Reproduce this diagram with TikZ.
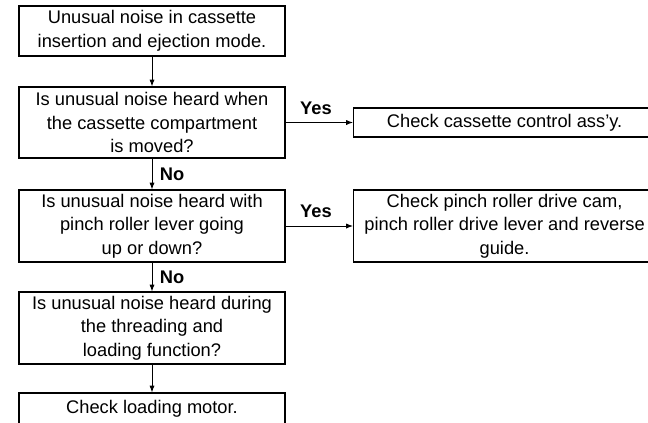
\documentclass[tikz,border=0pt]{standalone}
\usepackage{fontspec}
\setmainfont{Liberation Sans}
\usetikzlibrary{arrows.meta,positioning}

\begin{document}
\begin{tikzpicture}[
        font=\fontsize{13}{16.7}\selectfont,
        >={Latex[length=1.7mm, width=1.3mm]},
        qbox/.style={draw, line width=0.8pt, minimum width=6.65cm,
                   align=center, inner sep=1pt},
        chk/.style={draw, line width=0.8pt, minimum width=7.55cm,
                   align=center, inner sep=1pt},
        ans/.style={font=\fontsize{13}{16.7}\selectfont\bfseries},
        flow/.style={->, line width=0.7pt},
    ]
        \clip (0,0) rectangle (16.2,-10.55);
        % Main column.
        \node[qbox, minimum height=1.25cm] (start) at (3.8,-0.775)
            {Unusual noise in cassette\\insertion and ejection mode.};
        \node[qbox, minimum height=1.775cm] (qcomp) at (3.8,-3.0625)
            {Is unusual noise heard when\\the cassette compartment\\is moved?};
        \node[qbox, minimum height=1.8cm] (qpinch) at (3.8,-5.65)
            {Is unusual noise heard with\\pinch roller lever going\\up or down?};
        \node[qbox, minimum height=1.8cm] (qload) at (3.8,-8.2)
            {Is unusual noise heard during\\the threading and\\loading function?};
        \node[qbox, minimum height=0.8cm] (motor) at (3.8,-10.225)
            {Check loading motor.};
        \draw[flow] (start) -- (qcomp);
        \draw[flow] (qcomp) -- node[ans, right=2pt] {No} (qpinch);
        \draw[flow] (qpinch) -- node[ans, right=2pt] {No} (qload);
        \draw[flow] (qload) -- (motor);
        % Yes branches.
        \node[chk, minimum height=0.725cm, anchor=west] (ccass) at (8.825,-3.0625)
            {Check cassette control ass'y.};
        \node[chk, minimum height=1.8cm, anchor=west] (cpinch) at (8.825,-5.65)
            {Check pinch roller drive cam,\\pinch roller drive lever and reverse\\guide.};
        \draw[flow] (qcomp) -- node[ans, above=2pt, pos=0.45] {Yes} (ccass);
        \draw[flow] (qpinch) -- node[ans, above=2pt, pos=0.45] {Yes} (cpinch);
    \end{tikzpicture}
\end{document}
